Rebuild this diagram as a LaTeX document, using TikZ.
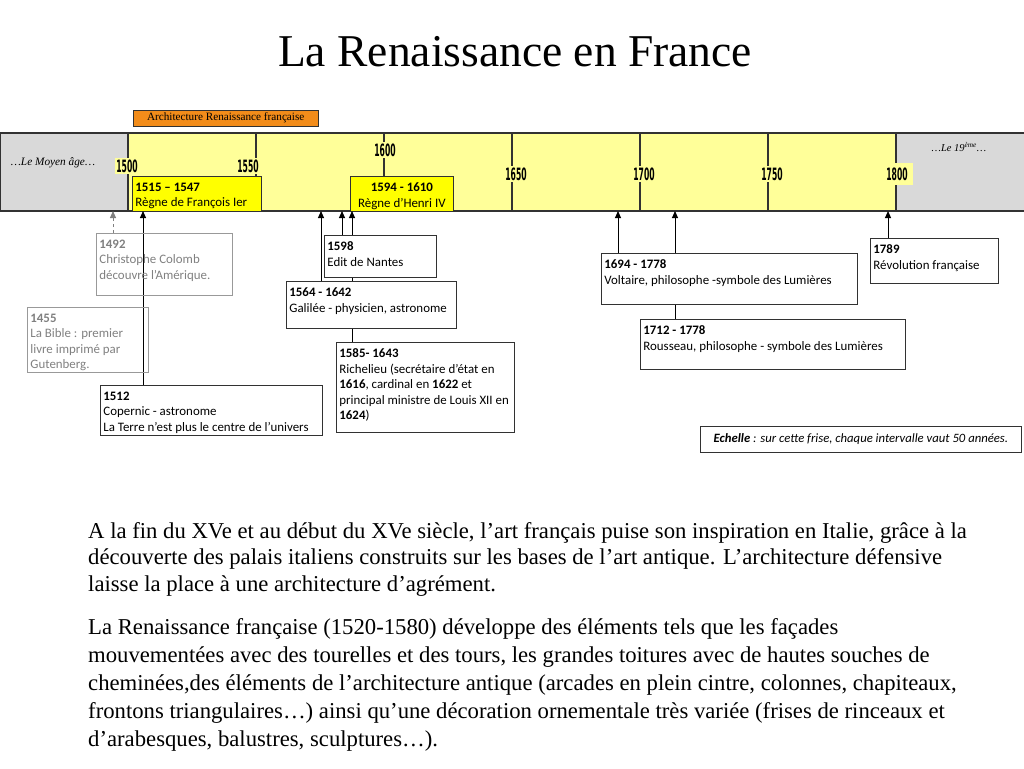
\documentclass[tikz,border=0pt]{standalone}
\usepackage{fontspec}
\setmainfont{Liberation Serif}
\newfontfamily\calfont{Carlito}
\newfontfamily\yearfont[FakeStretch=0.45]{DejaVu Sans}
\usetikzlibrary{arrows.meta}
\definecolor{barY}{RGB}{255,255,153}
\definecolor{boxY}{RGB}{255,255,0}
\definecolor{barG}{RGB}{217,217,217}
\definecolor{archO}{RGB}{242,140,26}
\definecolor{lineD}{RGB}{50,50,50}
\definecolor{greyT}{RGB}{128,128,128}
\newcommand\boxtxt[3]{\parbox[c][#2pt][t]{#1pt}{\vspace*{3.5pt}\raggedright #3}}
\begin{document}
\begin{tikzpicture}[x=1pt,y=-1pt,
  evbox/.style={draw=lineD, fill=white, line width=0.8pt, inner xsep=3pt, inner ysep=3pt, anchor=north west,
    font=\calfont\fontsize{12.9}{15.5}\selectfont},
  greybox/.style={draw=greyT!80, line width=0.8pt, inner xsep=3pt, inner ysep=3pt, anchor=north west, text=greyT,
    font=\calfont\fontsize{12.9}{15.5}\selectfont},
  reignbox/.style={draw=lineD, fill=boxY, line width=0.8pt, inner xsep=3pt, inner ysep=3pt, anchor=north west,
    font=\calfont\fontsize{12.9}{15.5}\selectfont},
  yearlbl/.style={fill=barY, inner sep=1.5pt, font=\yearfont\bfseries\fontsize{17}{18}\selectfont},
  tick/.style={lineD, line width=1.6pt},
  arr/.style={-{Triangle[length=7pt,width=6pt]}, line width=1pt, black},
  greyarr/.style={-{Triangle[length=7pt,width=6pt]}, line width=1pt, greyT, dashed}
]
\useasboundingbox (0,0) rectangle (1024,768);

% title
\node[font=\fontsize{45.5}{54}\selectfont] (title) at (515,52) {La Renaissance en France};

% architecture bar
\node[draw=lineD, fill=archO, minimum width=185pt, minimum height=16pt, inner sep=0pt,
  anchor=north west, font=\fontsize{11.2}{12}\selectfont] (arch) at (133,110) {Architecture Renaissance française};

% timeline
\fill[barG] (0,133) rectangle (1024,211);
\fill[barY] (128,133) rectangle (896,211);
\draw[lineD, line width=1pt] (0,133) rectangle (1024,211);
\draw[lineD, line width=2pt] (0,133) -- (1024,133);
\draw[lineD, line width=2pt] (0,211) -- (1024,211);
\foreach \xx in {128,256,384,512,640,768,896} {\draw[tick] (\xx,133) -- (\xx,211);}

\node[yearlbl] (y1500) at (127,166) {1500};
\node[yearlbl] (y1550) at (248,166) {1550};
\node[yearlbl] (y1600) at (385,150) {1600};
\node[yearlbl] (y1650) at (516,174) {1650};
\node[yearlbl] (y1700) at (644,174) {1700};
\node[yearlbl] (y1750) at (772,174) {1750};
\node[yearlbl, minimum width=32pt, minimum height=22pt] (y1800) at (897,174) {1800};

\node[font=\itshape\fontsize{11.3}{13}\selectfont] (ma) at (53,163) {…Le Moyen âge…};
\node[font=\itshape\fontsize{10.5}{12}\selectfont] (dixneuf) at (959,147) {…Le 19\textsuperscript{ème}…};

% reign boxes
\node[reignbox] (francois) at (132,176) {\boxtxt{123}{29}{\textbf{1515 – 1547}\\Règne de François Ier}};
\node[reignbox] (henri) at (350,176) {\parbox[c][29pt][t]{97pt}{\vspace*{3.5pt}\centering\textbf{1594 - 1610}\\Règne d’Henri IV}};

% anchor coordinates on the bar
\coordinate (a1492) at (113,211);
\coordinate (a1512) at (143,211);
\coordinate (aGal) at (321,211);
\coordinate (a1598) at (342,211);
\coordinate (aRich) at (352,211);
\coordinate (aVolt) at (618,211);
\coordinate (aRous) at (675,211);
\coordinate (a1789) at (888,211);

% event boxes (positions)
\path (96,233) coordinate (p1492) (27,307) coordinate (p1455) (100,385) coordinate (p1512)
      (324,235) coordinate (p1598) (286,281) coordinate (pGal) (336,342) coordinate (pRich)
      (601,253) coordinate (pVolt) (640,319) coordinate (pRous) (870,238) coordinate (p1789);

% connectors first (behind boxes)
\draw[greyarr] (p1492 -| a1492) -- (a1492);
\draw[arr] (p1512 -| a1512) -- (a1512);
\draw[arr] (pGal -| aGal) -- (aGal);
\draw[arr] (p1598 -| a1598) -- (a1598);
\draw[arr] (pRich -| aRich) -- (aRich);
\draw[arr] (pVolt -| aVolt) -- (aVolt);
\draw[arr] (pRous -| aRous) -- (aRous);
\draw[arr] (p1789 -| a1789) -- (a1789);

\node[greybox] (b1492) at (p1492) {\boxtxt{130}{56}{\textbf{1492}\\Christophe Colomb\\découvre l’Amérique.}};
\node[greybox] (b1455) at (p1455) {\boxtxt{115}{59}{\textbf{1455}\\La Bible : premier\\livre imprimé par\\Gutenberg.}};
\node[evbox] (b1512) at (p1512) {\boxtxt{216}{44}{\textbf{1512}\\Copernic - astronome\\\mbox{La Terre n’est plus le centre de l’univers}}};
\node[evbox] (galilee) at (pGal) {\boxtxt{164}{41}{\textbf{1564 - 1642}\\\mbox{Galilée - physicien, astronome}}};
\node[evbox] (b1598) at (p1598) {\boxtxt{106}{36}{\textbf{1598}\\Edit de Nantes}};
\node[evbox] (richelieu) at (pRich) {\boxtxt{172}{84}{\textbf{1585- 1643}\\\mbox{Richelieu (secrétaire d’état en}\\\mbox{\textbf{1616}, cardinal en \textbf{1622} et}\\\mbox{principal ministre de Louis XII en}\\\textbf{1624})}};
\node[evbox] (voltaire) at (pVolt) {\boxtxt{250}{45}{\textbf{1694 - 1778}\\\mbox{Voltaire, philosophe -symbole des Lumières}}};
\node[evbox] (rousseau) at (pRous) {\boxtxt{259}{44}{\textbf{1712 - 1778}\\\mbox{Rousseau, philosophe - symbole des Lumières}}};
\node[evbox] (b1789) at (p1789) {\boxtxt{122}{39}{\textbf{1789}\\Révolution française}};

\node[draw=lineD, line width=0.8pt, minimum width=321pt, minimum height=26pt, inner sep=0pt, anchor=north west,
  font=\calfont\itshape\fontsize{12.7}{14}\selectfont] (echelle) at (700,426)
  {\textbf{Echelle} : sur cette frise, chaque intervalle vaut 50 années.};

% paragraphs
\node[anchor=north west, align=left, inner sep=0pt, font=\fontsize{22.7}{26.5}\selectfont] (para1) at (88,522)
 {A la fin du XVe et au début du XVe siècle, l’art français puise son inspiration en Italie, grâce à la\\
  découverte des palais italiens construits sur les bases de l’art antique. L’architecture défensive\\
  laisse la place à une architecture d’agrément.};
\node[anchor=north west, align=left, inner sep=0pt, font=\fontsize{22.7}{28}\selectfont] (para2) at (88,618)
 {La Renaissance française (1520-1580) développe des éléments tels que les façades\\
  mouvementées avec des tourelles et des tours, les grandes toitures avec de hautes souches de\\
  cheminées,des éléments de l’architecture antique (arcades en plein cintre, colonnes, chapiteaux,\\
  frontons triangulaires…) ainsi qu’une décoration ornementale très variée (frises de rinceaux et\\
  d’arabesques, balustres, sculptures…).};
\end{tikzpicture}
\end{document}
